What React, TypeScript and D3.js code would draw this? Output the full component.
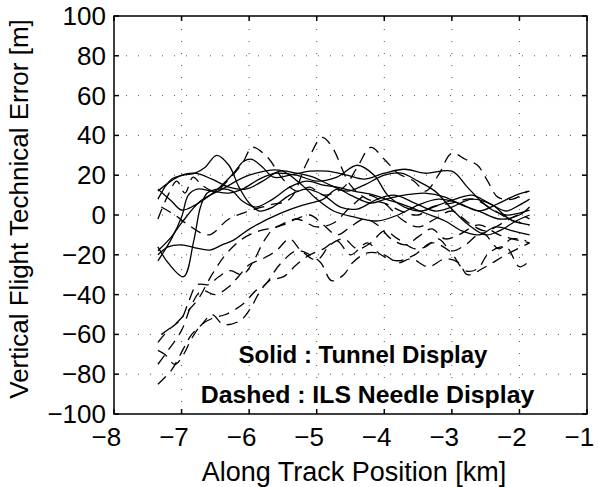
import React from "react";
import * as d3 from "d3";

// x ticks (km) and y ticks (m)
const xTicks = [-8, -7, -6, -5, -4, -3, -2, -1];
const yTicks = [-100, -80, -60, -40, -20, 0, 20, 40, 60, 80, 100];

// solid runs : tunnel display  [along track km, vertical error m]
const tunnel1 = [[-7.35,8],[-7.15,18],[-6.97,20],[-6.8,21],[-6.65,24],[-6.48,30],[-6.3,25],[-6.15,14],[-6.0,6],[-5.85,2],[-5.65,4],[-5.4,10],[-5.15,13],[-4.9,10],[-4.65,4],[-4.4,3],[-4.1,8],[-3.85,10],[-3.55,6],[-3.25,2],[-3.0,4],[-2.7,8],[-2.4,5],[-2.15,-2],[-1.85,-5]];
const tunnel2 = [[-7.35,13],[-7.15,7],[-7.0,2.5],[-6.8,5],[-6.5,12],[-6.23,21],[-6.08,27],[-5.96,28],[-5.8,24],[-5.64,19],[-5.4,20],[-5.1,22],[-4.85,22],[-4.55,20],[-4.3,18],[-4.0,21],[-3.7,23],[-3.4,21],[-3.0,22],[-2.77,14],[-2.6,8],[-2.4,2.5],[-2.2,0],[-2.0,1],[-1.85,2.5]];
const tunnel3 = [[-7.35,-18],[-7.15,-11],[-7.0,-4],[-6.72,7],[-6.4,13],[-6.0,20],[-5.55,22.5],[-5.25,16],[-5.0,8],[-4.75,2],[-4.45,-1],[-4.1,-3],[-3.8,0],[-3.5,5],[-3.2,8],[-2.9,6],[-2.6,2],[-2.3,6],[-2.05,10],[-1.85,12]];
const tunnel4 = [[-7.35,-23],[-7.15,-12],[-7.0,-1],[-6.9,10],[-6.77,13],[-6.55,12],[-6.3,11],[-6.1,13],[-5.85,18],[-5.6,21],[-5.3,20],[-5.0,17],[-4.7,19],[-4.4,25],[-4.15,20],[-3.95,10],[-3.7,4],[-3.45,2],[-3.2,5],[-2.95,8],[-2.7,10],[-2.45,6],[-2.2,2],[-2.0,5],[-1.85,8]];
const tunnel5 = [[-7.35,-16],[-7.2,-24],[-6.97,-31],[-6.82,-13],[-6.72,4],[-6.62,11],[-6.45,13],[-6.25,12],[-6.1,7],[-5.9,4],[-5.65,8],[-5.4,14],[-5.15,17],[-4.9,15],[-4.7,14],[-4.45,12],[-4.15,10],[-3.98,8],[-3.7,5],[-3.4,1],[-3.1,-3],[-2.85,-8],[-2.6,-10],[-2.35,-6],[-2.1,-8],[-1.85,-10]];
const tunnel6 = [[-7.35,-20],[-7.2,-16],[-7.0,-15],[-6.8,-16.5],[-6.58,-17.6],[-6.4,-15],[-6.23,-12.6],[-5.98,-6.7],[-5.54,0.8],[-5.2,5],[-4.9,8],[-4.7,13],[-4.5,10],[-4.2,6],[-3.98,8],[-3.7,10],[-3.4,11],[-3.1,9],[-2.85,5],[-2.6,2],[-2.3,-2],[-2.0,0],[-1.85,4]];
const tunnel7 = [[-7.35,12],[-7.2,16],[-7.0,20],[-6.8,21],[-6.55,18],[-6.3,14],[-6.05,13],[-5.8,17],[-5.55,22],[-5.3,21],[-5.05,19],[-4.8,15],[-4.55,12],[-4.3,15],[-4.0,20],[-3.75,21],[-3.5,17],[-3.25,12],[-3.0,3],[-2.75,-5],[-2.5,-10],[-2.3,-8],[-2.05,-3],[-1.85,0]];

// dashed runs : ILS needle display
const ils1 = [[-7.35,-85],[-7.15,-78],[-6.97,-67],[-6.85,-60],[-6.7,-55],[-6.55,-50],[-6.38,-55],[-6.13,-53],[-5.98,-47],[-5.85,-39],[-5.7,-33],[-5.49,-31],[-5.3,-25],[-5.1,-20],[-4.9,-17],[-4.7,-13],[-4.5,-20],[-4.25,-14],[-4.05,-20],[-3.8,-23],[-3.55,-20],[-3.3,-14],[-3.04,-18],[-2.8,-28],[-2.62,-27],[-2.45,-19],[-2.2,-16],[-2.0,-26],[-1.85,-23]];
const ils2 = [[-7.35,-68],[-7.25,-70],[-7.1,-75],[-6.97,-70],[-6.85,-62],[-6.7,-55],[-6.55,-52],[-6.35,-50],[-6.1,-45],[-5.9,-38],[-5.76,-35],[-5.55,-25],[-5.3,-18],[-5.1,-20],[-4.94,-24],[-4.78,-33],[-4.6,-30],[-4.47,-24],[-4.25,-19],[-4.0,-20],[-3.8,-24],[-3.6,-22],[-3.35,-26],[-3.1,-22],[-2.9,-24],[-2.77,-30],[-2.5,-26],[-2.2,-20],[-1.85,-14]];
const ils3 = [[-7.35,-64],[-7.2,-58],[-7.0,-52],[-6.9,-44],[-6.77,-35],[-6.6,-35],[-6.45,-31],[-6.28,-28],[-6.1,-30],[-5.95,-24],[-5.78,-13],[-5.64,-7],[-5.5,-5],[-5.3,-2],[-5.1,0],[-4.9,-5],[-4.7,-10],[-4.5,-6],[-4.3,-2],[-4.1,-5],[-3.9,-12],[-3.68,-15],[-3.5,-11],[-3.3,-7],[-3.1,-12],[-2.9,-10],[-2.6,-5],[-2.3,-10],[-2.1,-12],[-1.85,-14]];
const ils4 = [[-7.35,-75],[-7.2,-68],[-7.0,-58],[-6.85,-45],[-6.7,-38],[-6.5,-40],[-6.3,-36],[-6.16,-31],[-6.0,-25],[-5.8,-22],[-5.6,-18],[-5.4,-12],[-5.24,-17.6],[-5.0,-22.6],[-4.8,-15],[-4.6,-12],[-4.4,-17],[-4.2,-14],[-4.0,-8],[-3.8,-12],[-3.55,-17],[-3.39,-16],[-3.2,-12],[-3.0,-18],[-2.8,-15],[-2.55,-9],[-2.3,-17],[-2.12,-12],[-1.9,-13]];
const ils5 = [[-7.35,-2],[-7.2,10],[-7.07,17],[-6.95,11],[-6.83,19],[-6.7,15],[-6.5,12],[-6.3,18],[-6.1,26],[-5.95,34],[-5.73,29],[-5.5,18],[-5.3,12],[-5.1,14],[-4.9,10],[-4.6,14],[-4.4,24],[-4.2,34],[-4.0,28],[-3.8,21],[-3.56,17],[-3.39,12],[-3.2,20],[-3.0,31],[-2.8,28],[-2.62,25],[-2.47,17],[-2.32,9],[-2.1,8],[-1.88,12]];
const ils6 = [[-7.3,4],[-7.1,0],[-6.9,-5],[-6.6,-10],[-6.3,-2],[-6.0,2],[-5.7,5],[-5.4,8],[-5.15,26],[-4.92,39],[-4.77,34],[-4.5,15],[-4.25,8],[-4.0,6],[-3.75,2],[-3.5,0],[-3.3,4],[-3.0,6],[-2.7,8],[-2.4,3],[-2.1,-3],[-1.85,-5]];
const ils7 = [[-7.3,-60],[-7.1,-55],[-6.9,-48],[-6.75,-42],[-6.55,-30],[-6.35,-20],[-6.1,-12],[-5.85,-8],[-5.6,-6],[-5.3,-2],[-5.0,-6],[-4.75,-4],[-4.5,4],[-4.25,10],[-4.0,6],[-3.75,-2],[-3.5,-6],[-3.25,-2],[-3.0,2],[-2.75,-4],[-2.5,-8],[-2.25,-4],[-2.0,0],[-1.85,-2]];

const tunnelRuns = [tunnel1, tunnel2, tunnel3, tunnel4, tunnel5, tunnel6, tunnel7];
const ilsRuns = [ils1, ils2, ils3, ils4, ils5, ils6, ils7];

const font = "'Liberation Sans', Arial, Helvetica, sans-serif";

export default function App() {
  const width = 598, height = 487;
  const left = 114, right = 587, top = 16, bottom = 414;

  const x = d3.scaleLinear().domain([-8, -1]).range([left, right]);
  const y = d3.scaleLinear().domain([-100, 100]).range([bottom, top]);

  const line = d3.line<number[]>()
    .x(d => x(d[0]))
    .y(d => y(d[1]))
    .curve(d3.curveCatmullRom.alpha(0.5));

  const fmt = d3.format("d");
  const tick = 5;
  const fs = 26;
  // matlab centres the digits under the tick, the minus sign hangs to the left
  const digitHalf = 0.556 * fs / 2;

  return (
    <svg width={width} height={height} style={{position: "absolute", left: 0, top: 0, background: "#fff"}}
         fontFamily={font}>
      <rect x={0} y={0} width={width} height={height} fill="#fff"/>
      {/* grid */}
      <g stroke="#555" strokeWidth={1} strokeDasharray="1,11">
        {xTicks.slice(1, -1).map(t => (
          <line key={"gx" + t} x1={x(t)} x2={x(t)} y1={bottom} y2={top}/>
        ))}
        {yTicks.slice(1, -1).map(t => (
          <line key={"gy" + t} x1={left} x2={right} y1={y(t)} y2={y(t)}/>
        ))}
      </g>
      {/* data */}
      <g fill="none" stroke="#000" strokeWidth={1.3}>
        {tunnelRuns.map((r, i) => <path key={"s" + i} d={line(r) || ""}/>)}
        {ilsRuns.map((r, i) => <path key={"d" + i} d={line(r) || ""} strokeDasharray="11,7"/>)}
      </g>
      {/* box and ticks */}
      <g stroke="#000" strokeWidth={1.5}>
        <rect x={left} y={top} width={right - left} height={bottom - top} fill="none"/>
        {xTicks.map(t => (
          <g key={"tx" + t}>
            <line x1={x(t)} x2={x(t)} y1={bottom} y2={bottom - tick}/>
            <line x1={x(t)} x2={x(t)} y1={top} y2={top + tick}/>
          </g>
        ))}
        {yTicks.map(t => (
          <g key={"ty" + t}>
            <line x1={left} x2={left + tick} y1={y(t)} y2={y(t)}/>
            <line x1={right} x2={right - tick} y1={y(t)} y2={y(t)}/>
          </g>
        ))}
      </g>
      {/* tick labels */}
      <g fontSize={fs} fill="#000">
        {xTicks.map(t => (
          <text key={"lx" + t} x={x(t) + digitHalf} y={446} textAnchor="end">{fmt(t)}</text>
        ))}
        {yTicks.map(t => (
          <text key={"ly" + t} x={106} y={y(t) + 9} textAnchor="end">{fmt(t)}</text>
        ))}
      </g>
      <text x={354} y={481} fontSize={27} textAnchor="middle">Along Track Position [km]</text>
      <text transform="translate(28,209) rotate(-90)" fontSize={26} textAnchor="middle">
        Vertical Flight Technical Error [m]
      </text>
      <g fontWeight="bold" textAnchor="middle">
        <text x={363} y={363} fontSize={24}>Solid : Tunnel Display</text>
        <text x={367.5} y={403} fontSize={24.8}>Dashed : ILS Needle Display</text>
      </g>
    </svg>
  );
}
